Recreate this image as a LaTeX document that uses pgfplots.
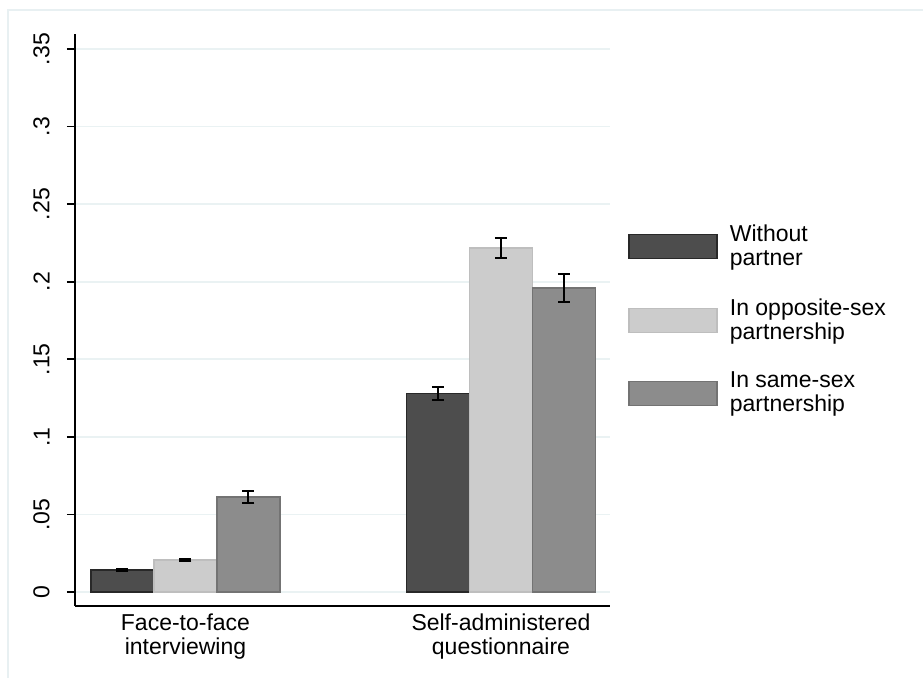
\documentclass[border=0pt]{standalone}
\usepackage{pgfplots}
\pgfplotsset{compat=1.18}
\usepackage{fontspec}
\setmainfont{Liberation Sans}
\definecolor{gridc}{RGB}{234,242,243}
\definecolor{framec}{RGB}{232,240,242}
\definecolor{cdark}{RGB}{77,77,77}
\definecolor{cdarkb}{RGB}{40,40,40}
\definecolor{clight}{RGB}{204,204,204}
\definecolor{clightb}{RGB}{190,190,190}
\definecolor{cmid}{RGB}{140,140,140}
\definecolor{cmidb}{RGB}{115,115,115}
\begin{document}
\fontsize{11.5}{12}\selectfont
\begin{tikzpicture}[font=\fontsize{11.5}{12}\selectfont]
\useasboundingbox (-37.5pt,-36pt) rectangle (424pt,303pt);
\draw[framec, line width=0.6pt] (-33.5pt,-40pt) -- (-33.5pt,298pt) -- (430pt,298pt);
\begin{axis}[at={(0,0)}, anchor=south west, scale only axis,
  width=267.5pt, height=286pt,
  xmin=-0.3502, xmax=1.3455, ymin=-0.00902, ymax=0.3597,
  axis lines*=left,
  axis line style={line width=0.85pt},
  ybar=0pt, bar width=31.5pt,
  xtick={0,1},
  xticklabels={{Face-to-face\\interviewing},{Self-administered\\questionnaire}},
  xticklabel style={align=center, inner sep=0pt, yshift=0.5pt},
  x tick style={draw=none},
  ytick={0,0.05,0.1,0.15,0.2,0.25,0.3,0.35},
  yticklabels={0,.05,.1,.15,.2,.25,.3,.35},
  yticklabel style={rotate=90, anchor=south, inner xsep=0pt, inner ysep=8.5pt},
  y tick style={line width=0.85pt, black},
  tick align=outside, major tick length=4pt,
  ymajorgrids, grid style={gridc, line width=0.8pt},
  legend style={at={(1,0.5)}, anchor=west, xshift=9pt, draw=none, fill=none,
    inner sep=0pt, row sep=10.8pt, legend cell align=left,
    nodes={align=left, inner sep=2pt},
    /tikz/every odd column/.append style={column sep=4pt}},
  legend image code/.code={\draw[#1] (0pt,-6pt) rectangle (44pt,6pt);},
  error bars/y dir=both, error bars/y explicit,
  error bars/error bar style={line width=1pt, black},
  error bars/error mark options={rotate=90, mark size=3pt, line width=1pt, black},
]
\addplot+[fill=cdark, draw=cdarkb, line width=0.75pt, mark=none]
  coordinates {(0,0.0142) +- (0,0.0006) (1,0.128) +- (0,0.0043)};
\addlegendentry{Without\\partner}
\addplot+[fill=clight, draw=clightb, line width=0.75pt, mark=none]
  coordinates {(0,0.0206) +- (0,0.0007) (1,0.2218) +- (0,0.0062)};
\addlegendentry{In opposite-sex\\partnership}
\addplot+[fill=cmid, draw=cmidb, line width=0.75pt, mark=none]
  coordinates {(0,0.0612) +- (0,0.0037) (1,0.196) +- (0,0.009)};
\addlegendentry{In same-sex\\partnership}
\end{axis}
\end{tikzpicture}
\end{document}
